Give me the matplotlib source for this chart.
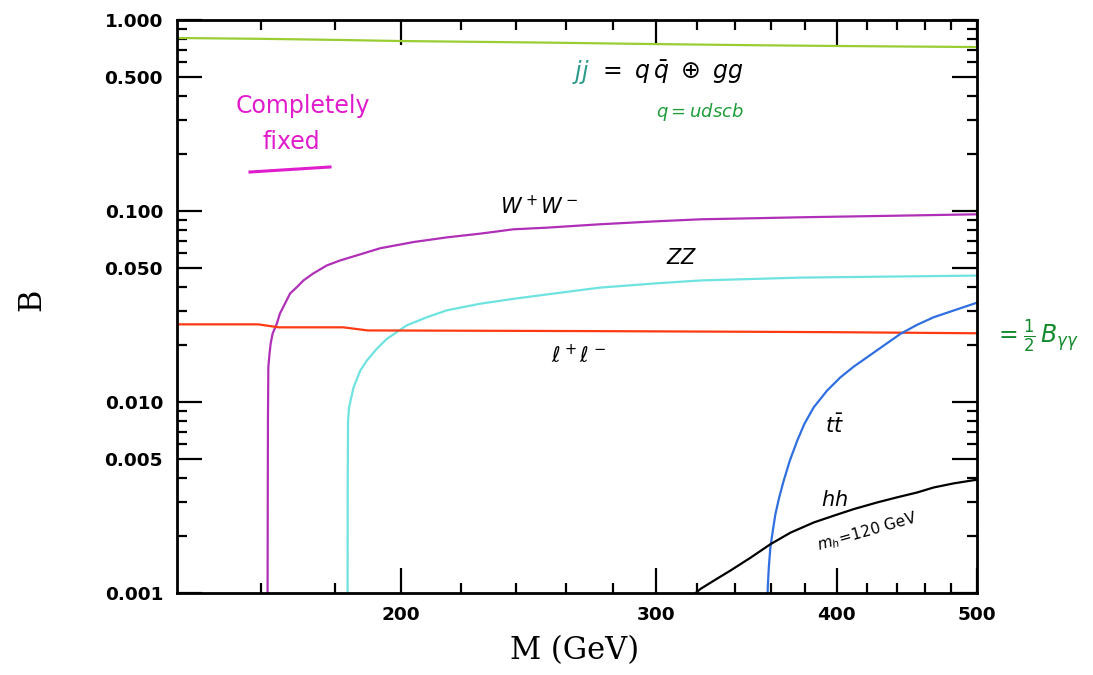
import numpy as np
import matplotlib
matplotlib.use("Agg")
import matplotlib.pyplot as plt
from matplotlib.ticker import FixedLocator, NullFormatter, FixedFormatter

# ---- data ----
M_jj = [140, 160, 180, 200, 250, 300, 350, 400, 450, 500]
B_jj = [0.805, 0.797, 0.787, 0.776, 0.762, 0.748, 0.738, 0.731, 0.726, 0.722]

M_ww = [161.70, 161.75, 161.80, 161.90, 162.2, 162.5, 163.0, 164.1, 164.9, 167.6,
        169.4, 171.2, 173.9, 177.7, 181.5, 187.4, 193.4, 204.0, 215.2, 226.8,
        239.1, 252.2, 274.3, 300.0, 322.3, 350.0, 377.6, 440.0, 500.0]
B_ww = [0.0009, 0.003, 0.008, 0.0152, 0.0179, 0.0202, 0.0228, 0.0257, 0.0290, 0.0370,
        0.0399, 0.0433, 0.0471, 0.0519, 0.0551, 0.0593, 0.0638, 0.0688, 0.0728, 0.0761,
        0.0802, 0.0818, 0.0852, 0.0883, 0.0905, 0.0916, 0.0927, 0.0945, 0.0961]

M_zz = [183.65, 183.70, 183.80, 184.1, 185.4, 187.4, 189.4, 192.4, 195.5, 201.8,
        208.4, 215.1, 226.8, 239.2, 256.6, 274.3, 300.0, 322.3, 377.6, 440.0, 500.0]
B_zz = [0.0009, 0.004, 0.0080, 0.0094, 0.0119, 0.0146, 0.0165, 0.0190, 0.0214, 0.0252,
        0.0278, 0.0302, 0.0327, 0.0347, 0.0372, 0.0397, 0.0418, 0.0433, 0.0448, 0.0454, 0.0459]

M_ll = [140, 159.3, 164.6, 182.4, 189.6, 274, 356, 400, 500]
B_ll = [0.0255, 0.0255, 0.0246, 0.0246, 0.0237, 0.0235, 0.0233, 0.0232, 0.0229]

M_tt = [358.3, 358.4, 359.0, 359.9, 361.3, 362.8, 365.0, 367.6, 371.2, 375.6,
        379.9, 385.6, 393.9, 402.4, 411.0, 419.8, 431.1, 442.7, 454.6, 466.8,
        481.9, 497.5, 500.0]
B_tt = [0.0009, 0.00107, 0.00136, 0.00173, 0.00212, 0.00259, 0.00317, 0.00387, 0.00493, 0.00627,
        0.00768, 0.00938, 0.01148, 0.01348, 0.01533, 0.01715, 0.01976, 0.02275, 0.02537, 0.02780,
        0.03015, 0.03269, 0.0331]

M_hh = [316.0, 322.0, 328.9, 337.7, 348.7, 359.9, 371.6, 385.6, 398.1, 411.0,
        426.6, 440.4, 454.6, 466.8, 481.9, 498.9, 500.0]
B_hh = [0.00093, 0.00105, 0.00116, 0.00131, 0.00153, 0.00180, 0.00207, 0.00234, 0.00254, 0.00275,
        0.00298, 0.00317, 0.00336, 0.00357, 0.00375, 0.00391, 0.00392]

x_major = [200, 300, 400, 500]
x_minor = [160, 180, 220, 240, 260, 280, 320, 340, 360, 380, 420, 440, 460, 480]
y_major = [1.0, 0.5, 0.1, 0.05, 0.01, 0.005, 0.001]
y_major_labels = ["1.000", "0.500", "0.100", "0.050", "0.010", "0.005", "0.001"]
y_minor = [0.9, 0.8, 0.7, 0.6, 0.4, 0.3, 0.2,
           0.09, 0.08, 0.07, 0.06, 0.04, 0.03, 0.02,
           0.009, 0.008, 0.007, 0.006, 0.004, 0.003, 0.002]

W, H = 1093, 675
fig = plt.figure(figsize=(W / 100, H / 100), dpi=100)
ax = fig.add_axes([177 / W, 1 - 593 / H, 800 / W, 573 / H])
ax.set_xscale("log")
ax.set_yscale("log")
ax.set_xlim(140, 500)
ax.set_ylim(0.001, 1.0)

lw = 1.6
ax.plot(M_jj, B_jj, color="#9acd32", lw=lw)
ax.plot(M_ww, B_ww, color="#b02fb8", lw=lw)
ax.plot(M_zz, B_zz, color="#6ee3e0", lw=lw)
ax.plot(M_ll, B_ll, color="#ff3a12", lw=lw)
ax.plot(M_tt, B_tt, color="#2f6fe0", lw=lw)
ax.plot(M_hh, B_hh, color="black", lw=lw)

ax.xaxis.set_major_locator(FixedLocator(x_major))
ax.xaxis.set_major_formatter(FixedFormatter([str(v) for v in x_major]))
ax.xaxis.set_minor_locator(FixedLocator(x_minor))
ax.xaxis.set_minor_formatter(NullFormatter())
ax.yaxis.set_major_locator(FixedLocator(y_major))
ax.yaxis.set_major_formatter(FixedFormatter(y_major_labels))
ax.yaxis.set_minor_locator(FixedLocator(y_minor))
ax.yaxis.set_minor_formatter(NullFormatter())

ax.tick_params(which="both", direction="in", top=True, right=True, width=1.6, colors="black")
ax.tick_params(which="major", length=18)
ax.tick_params(which="minor", length=7)
ax.tick_params(axis="y", which="major", pad=10)
ax.tick_params(axis="x", which="major", pad=9)
for lab in ax.get_xticklabels() + ax.get_yticklabels():
    lab.set_fontweight("bold")
    lab.set_fontsize(13.3)
    lab.set_family("DejaVu Sans")
for sp in ax.spines.values():
    sp.set_linewidth(2.0)

fig.text(575 / W, 1 - 651 / H, "M (GeV)", family="DejaVu Serif", fontsize=22,
         ha="center", va="center")
fig.text(32 / W, 1 - 300 / H, "B", family="DejaVu Serif", fontsize=22,
         ha="center", va="center", rotation=90)


def px(x, y):
    return (x / W, 1 - y / H)


# annotations
fig.text(*px(581, 72), r"$jj$", color="#2a9a8a", fontsize=17, ha="center", va="center")
fig.text(*px(598, 72), r"$=\ q\,\bar{q}\ \oplus\ gg$", color="black", fontsize=17,
         ha="left", va="center")
fig.text(*px(700, 112), r"$q = udscb$", color="#1e9e3a", fontsize=13, ha="center", va="center")

fig.text(*px(303, 106), "Completely", color="#e01ccc", fontsize=17, ha="center", va="center")
fig.text(*px(291, 142), "fixed", color="#e01ccc", fontsize=17, ha="center", va="center")
fig.add_artist(plt.Line2D([250 / W, 330 / W], [1 - 172 / H, 1 - 167 / H],
                          color="#e01ccc", lw=2.2))

fig.text(*px(539, 206), r"$W^+W^-$", color="black", fontsize=15, ha="center", va="center")
fig.text(*px(682, 258), r"$ZZ$", color="black", fontsize=15, ha="center", va="center")
fig.text(*px(578, 355), r"$\ell^+\ell^-$", color="black", fontsize=15, ha="center", va="center")
fig.text(*px(835, 425), r"$t\bar{t}$", color="black", fontsize=15, ha="center", va="center")
fig.text(*px(835, 500), r"$hh$", color="black", fontsize=15, ha="center", va="center")
fig.text(*px(867, 532), r"$m_h\!=\!120\ \mathrm{GeV}$", color="black", fontsize=11,
         ha="center", va="center", rotation=16)
fig.text(*px(1036, 336), r"$=\frac{1}{2}\,B_{\gamma\gamma}$", color="#128a2c", fontsize=17,
         ha="center", va="center")

fig.savefig("out.png", dpi=100, facecolor="white")
